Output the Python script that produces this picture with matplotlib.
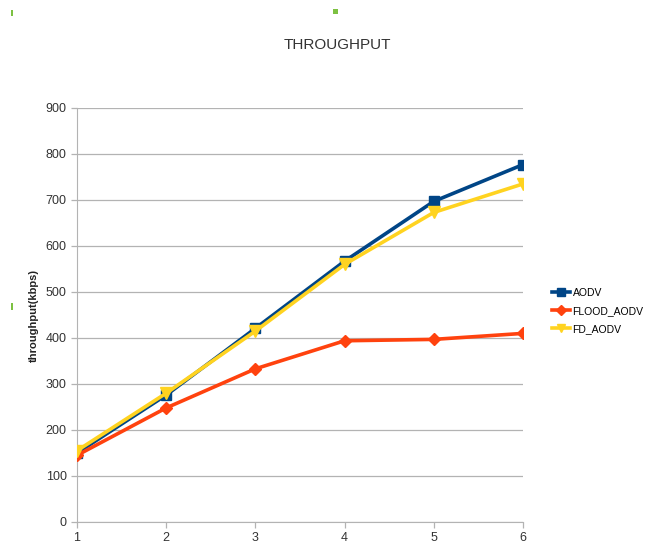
import matplotlib
matplotlib.use("Agg")
import matplotlib.pyplot as plt
from matplotlib.patches import Rectangle

plt.rcParams['font.family'] = ['Liberation Sans', 'DejaVu Sans']

nodes = [1, 2, 3, 4, 5, 6]
aodv = [150, 276, 421, 567, 697, 777]
flood_aodv = [145, 248, 333, 394, 397, 410]
fd_aodv = [155, 280, 415, 560, 673, 735]
y_ticks = [0, 100, 200, 300, 400, 500, 600, 700, 800, 900]

fig = plt.figure(figsize=(6.5, 5.49), dpi=100)
ax = fig.add_axes([77/650, 27/549, 446/650, 414/549])

ax.plot(nodes, aodv, color='#004586', lw=2.6, marker='s', ms=7, label='AODV', zorder=3)
ax.plot(nodes, flood_aodv, color='#ff420e', lw=2.6, marker='D', ms=6, label='FLOOD_AODV', zorder=3)
ax.plot(nodes, fd_aodv, color='#ffd320', lw=2.6, marker='v', ms=8, label='FD_AODV', zorder=4)

ax.set_xlim(1, 6)
ax.set_ylim(0, 900)
ax.set_xticks(nodes)
ax.set_yticks(y_ticks)
ax.yaxis.grid(True, color='#b3b3b3', lw=0.9)
ax.set_axisbelow(True)
for s in ['top', 'right']:
    ax.spines[s].set_visible(False)
for s in ['left', 'bottom']:
    ax.spines[s].set_color('#b3b3b3')
ax.tick_params(colors='#b3b3b3', labelcolor='#333333', labelsize=9, length=4, width=0.9)

ax.set_ylabel('throughput(kbps)', fontsize=8, fontweight='bold', color='#222222', labelpad=5)

fig.text(337/650, 1 - 45/549, 'THROUGHPUT', ha='center', va='center', fontsize=11, color='#333333')

leg = ax.legend(loc='center left', bbox_to_anchor=(1.055, 0.51), frameon=False,
                fontsize=7.5, handlelength=1.8, handletextpad=0.2, labelspacing=0.75,
                borderaxespad=0, markerscale=0.8)

# small green selection handles
for (x, y, w, h) in [(11, 10, 2, 6), (333, 9, 5, 5), (11, 303, 2, 7)]:
    fig.patches.append(Rectangle((x/650, 1 - (y + h)/549), w/650, h/549,
                                 transform=fig.transFigure, color='#7dc142', lw=0))

fig.savefig('out.png', dpi=100)
